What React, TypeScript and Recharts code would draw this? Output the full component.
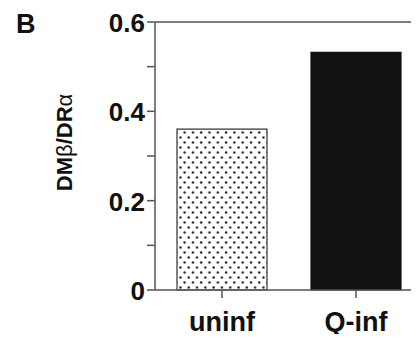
import { BarChart, Bar, XAxis, YAxis, Cell, ReferenceLine } from "recharts";

const categories = ["uninf", "Q-inf"];
const ratios = [0.36, 0.532];
const yTicks = [0, 0.1, 0.2, 0.3, 0.4, 0.5, 0.6];
const yLabels: Record<string, string> = { "0": "0", "0.2": "0.2", "0.4": "0.4", "0.6": "0.6" };

const FONT = "'Liberation Sans', Arial, Helvetica, sans-serif";
const AXIS_COLOR = "#555";

const data = categories.map((c, i) => ({ name: c, ratio: ratios[i] }));

function YTick({ x, y, payload }: any) {
  const key = String(Math.round(payload.value * 10) / 10);
  const text = yLabels[key];
  if (!text) return null;
  return (
    <text x={x} y={y + 10} textAnchor="end" fontFamily={FONT} fontWeight="bold" fontSize={26} fill="#111">
      {text}
    </text>
  );
}

function XTick({ x, y, payload }: any) {
  return (
    <text x={x} y={y + 31} textAnchor="middle" fontFamily={FONT} fontWeight="bold" fontSize={27} fill="#111">
      {payload.value}
    </text>
  );
}

export default function App() {
  return (
    <div style={{ position: "relative", margin: -8, width: 419, height: 342, overflow: "hidden", background: "#fff" }}>
      <BarChart width={423} height={342} data={data} margin={{ top: 22, right: 0, bottom: 0, left: 0 }} barCategoryGap={0}>
        <defs>
          <pattern id="dots" patternUnits="userSpaceOnUse" width={8.3} height={10}>
            <rect width={8.3} height={10} fill="#fff" />
            <circle cx={2} cy={2.5} r={1.2} fill="#222" />
            <circle cx={6.15} cy={7.5} r={1.2} fill="#222" />
          </pattern>
        </defs>
        <YAxis
          type="number" domain={[0, 0.6]} ticks={yTicks} width={155}
          tickSize={8} tick={<YTick />} stroke={AXIS_COLOR} strokeWidth={1.5}
          tickLine={{ stroke: AXIS_COLOR, strokeWidth: 1.5 }} interval={0}
        />
        <XAxis
          dataKey="name" height={52} tickSize={8} tick={<XTick />}
          stroke={AXIS_COLOR} strokeWidth={1.5} tickLine={{ stroke: AXIS_COLOR, strokeWidth: 1.5 }}
        />
        <ReferenceLine y={0.6} stroke={AXIS_COLOR} strokeWidth={1.5} />
        <Bar dataKey="ratio" barSize={90} isAnimationActive={false} strokeWidth={1.2}>
          {data.map((d, i) => (
            <Cell key={d.name} fill={i === 0 ? "url(#dots)" : "#111"} stroke={i === 0 ? "#333" : "#111"} />
          ))}
        </Bar>
      </BarChart>
      <svg width={419} height={342} style={{ position: "absolute", left: 0, top: 0, pointerEvents: "none" }}>
        <text x={16} y={33} fontFamily={FONT} fontWeight="bold" fontSize={27} fill="#111">B</text>
        <text
          x={0} y={0} transform="translate(72 142.5) rotate(-90)" textAnchor="middle"
          fontFamily={FONT} fontWeight="bold" fontSize={22} fill="#111"
        >
          DM<tspan fontWeight="normal">β</tspan>/DR<tspan fontWeight="normal">α</tspan>
        </text>
      </svg>
    </div>
  );
}
